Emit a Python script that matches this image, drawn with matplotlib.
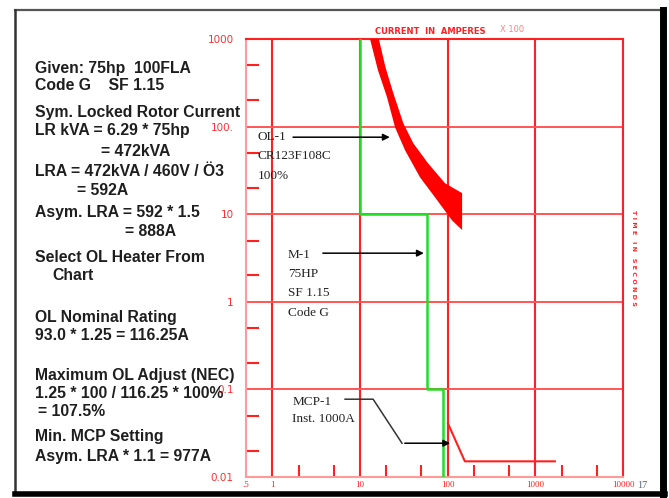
"""
Time-current coordination chart for a 75hp motor circuit
(overload relay, motor starting curve, motor circuit protector).
"""
import matplotlib.pyplot as plt
from matplotlib.lines import Line2D
import numpy as np

W, H = 669, 498

# axis ticks
x_major = [0.5, 1, 10, 100, 1000, 10000]
x_major_labels = [".5", "1", "10", "100", "1000", "10000"]
x_minor = [2, 5, 20, 50, 200, 500, 2000, 5000]
y_major = [0.01, 0.1, 1, 10, 100, 1000]
y_major_labels = ["0.01", "0.1", "1", "10", "100.", "1000"]
y_minor = [0.02, 0.05, 0.2, 0.5, 2, 5, 20, 50, 200, 500]
x_grid = [1, 10, 100, 1000]
y_grid = [0.1, 1, 10, 100]

# OL-1 overload band (current x100 A, time s)
ol_lower_x = [13.0, 16.0, 20.3, 25.1, 32.6, 48.3, 71.6, 112, 146]
ol_lower_y = [1000, 441, 217, 98, 53.8, 26.4, 15.6, 8.5, 6.6]
ol_upper_x = [16.4, 19.5, 24.0, 31.2, 40.5, 59.6, 93.1, 146]
ol_upper_y = [1000, 477, 240, 109, 64.6, 38.2, 22.6, 17.4]

# M-1 motor starting curve
motor_x = [10, 10, 58, 58, 88, 88]
motor_y = [1000, 10, 10, 0.1, 0.1, 0.01]

# MCP-1 instantaneous trip
mcp_x = [100.5, 157, 1670]
mcp_y = [0.041, 0.0151, 0.0151]

side_notes = [
    ("Given: 75hp  100FLA", 35, 68),
    ("Code G    SF 1.15", 35, 85),
    ("Sym. Locked Rotor Current", 35, 112),
    ("LR kVA = 6.29 * 75hp", 35, 130),
    ("= 472kVA", 101, 151),
    ("LRA = 472kVA / 460V / Ö3", 35, 171),
    ("= 592A", 77, 190),
    ("Asym. LRA = 592 * 1.5", 35, 212),
    ("= 888A", 125, 231),
    ("Select OL Heater From", 35, 258),
    ("Chart", 52, 276),
    ("OL Nominal Rating", 35, 317),
    ("93.0 * 1.25 = 116.25A", 35, 336),
    ("Maximum OL Adjust (NEC)", 35, 375),
    ("1.25 * 100 / 116.25 * 100%", 35, 393),
    ("= 107.5%", 38, 412),
    ("Min. MCP Setting", 35, 436),
    ("Asym. LRA * 1.1 = 977A", 35, 456),
]


def fx(px):
    return px / W


def fy(py):
    return 1 - py / H


def draw_frame(fig):
    # page border with a heavier right/bottom edge
    fig.add_artist(Line2D([fx(15), fx(662)], [fy(10), fy(10)], color="#555555", lw=1.6))
    fig.add_artist(Line2D([fx(15), fx(15)], [fy(10), fy(494)], color="#333333", lw=1.8))
    fig.add_artist(Line2D([fx(663), fx(663)], [fy(10), fy(496)], color="black", lw=5))
    fig.add_artist(Line2D([fx(15), fx(665)], [fy(494), fy(494)], color="black", lw=4))


def draw_axes(ax):
    ax.set_xscale("log")
    ax.set_yscale("log")
    ax.set_xlim(0.5, 10000)
    ax.set_ylim(0.01, 1000)

    for x in x_grid:
        ax.axvline(x, color="#ff2020", lw=1.5, zorder=1)
    for y in y_grid:
        ax.axhline(y, color="#ff5555", lw=1.4, zorder=1)

    ax.spines["top"].set_color("#ff2020")
    ax.spines["right"].set_color("#ff2020")
    ax.spines["left"].set_color("#ff9a9a")
    ax.spines["bottom"].set_color("#ff9a9a")
    for s in ax.spines.values():
        s.set_linewidth(1.5)

    ax.set_xticks(x_major)
    ax.set_xticklabels(x_major_labels, fontsize=6.5, family="Liberation Serif", color="#ff2020")
    ax.set_xticks(x_minor, minor=True)
    ax.set_xticklabels([], minor=True)
    ax.set_yticks(y_major)
    ax.set_yticklabels(y_major_labels, fontsize=7.5, color="#ff3030")
    ax.set_yticks(y_minor, minor=True)
    ax.set_yticklabels([], minor=True)
    ax.tick_params(which="major", length=0, pad=3)
    ax.tick_params(axis="y", which="major", pad=9)
    ax.tick_params(which="minor", direction="in", length=9, width=1.5, color="#ff2020")


def draw_curves(ax):
    band_x = np.concatenate([ol_lower_x, ol_upper_x[::-1]])
    band_y = np.concatenate([ol_lower_y, ol_upper_y[::-1]])
    ax.fill(band_x, band_y, color="#ff0000", lw=0, zorder=3)
    ax.plot(motor_x, motor_y, color="#22dd22", lw=1.8, zorder=4)
    ax.plot(mcp_x, mcp_y, color="#ff2020", lw=1.5, zorder=4)


def draw_labels(fig, ax):
    serif = dict(family="Liberation Serif", fontsize=9.5, color="#222222", zorder=6)
    arrow = dict(arrowstyle="-|>", color="black", lw=1.1, mutation_scale=10)

    ax.text(0.68, 88.5, "OL-1\nCR123F108C\n100%", va="top", ha="left", linespacing=1.8, **serif)
    ax.annotate("", xy=(23.5, 75.7), xytext=(1.6, 75.7), arrowprops=arrow, zorder=6)

    ax.text(1.51, 4.0, "M-1\n75HP\nSF 1.15\nCode G", va="top", ha="left", linespacing=1.8, **serif)
    ax.annotate("", xy=(57.5, 3.59), xytext=(3.5, 3.59), arrowprops=arrow, zorder=6)

    ax.text(1.68, 0.0835, "MCP-1\nInst. 1000A", va="top", ha="left", linespacing=1.5, **serif)
    ax.plot([6.75, 14.1, 30.1], [0.0773, 0.0773, 0.0243], color="#333333", lw=1.1, zorder=6)
    ax.annotate("", xy=(115, 0.0243), xytext=(30.1, 0.0243), arrowprops=arrow, zorder=6)

    for txt, x, y in side_notes:
        fig.text(fx(x), fy(y), txt, fontsize=11.3, fontweight="bold", color="#1e1e1e",
                 family="Liberation Sans", ha="left", va="center")

    fig.text(fx(375), fy(31), "CURRENT  IN  AMPERES", fontsize=6, color="#ff2020",
             fontweight="bold", ha="left", va="center")
    fig.text(fx(500), fy(30), "X 100", fontsize=6, color="#ff8080", ha="left", va="center")
    fig.text(fx(633), fy(258), "T I M E   I N   S E C O N D S", fontsize=4.6, color="#ff2020",
             fontweight="bold", rotation=-90, ha="center", va="center")
    fig.text(fx(637), fy(485), "17", fontsize=7.5, family="Liberation Serif",
             color="#556677", ha="left", va="center")


def main():
    fig = plt.figure(figsize=(W / 100, H / 100), dpi=100)
    ax = fig.add_axes([fx(246), 21 / H, 377 / W, 438 / H])
    draw_axes(ax)
    draw_curves(ax)
    draw_labels(fig, ax)
    draw_frame(fig)
    fig.savefig("out.png", dpi=100)
    plt.close(fig)


if __name__ == "__main__":
    main()
